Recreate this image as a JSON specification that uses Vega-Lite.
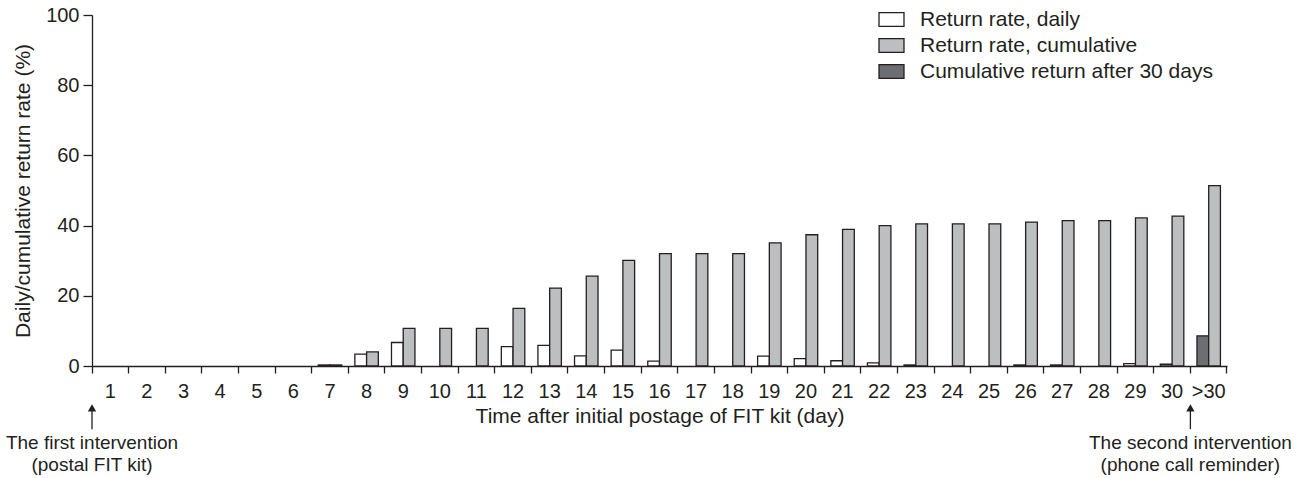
{
  "$schema": "https://vega.github.io/schema/vega-lite/v6.json",
  "width": 1135,
  "height": 351,
  "autosize": {"type": "none"},
  "padding": {"left": 92, "top": 15, "right": 73, "bottom": 112},
  "config": {
    "font": "Liberation Sans",
    "view": {"stroke": null},
    "axis": {
      "grid": false,
      "domainColor": "#231f20",
      "domainWidth": 1.3,
      "tickColor": "#231f20",
      "tickWidth": 1.3,
      "labelColor": "#231f20",
      "titleColor": "#231f20",
      "labelFontSize": 20,
      "titleFontSize": 21,
      "titleFontWeight": "normal"
    }
  },
  "datasets": {
    "bars": [
      {"day": "7", "slot": "a", "series": "Return rate, daily", "value": 0.3},
      {"day": "8", "slot": "a", "series": "Return rate, daily", "value": 3.4},
      {"day": "9", "slot": "a", "series": "Return rate, daily", "value": 6.7},
      {"day": "12", "slot": "a", "series": "Return rate, daily", "value": 5.5},
      {"day": "13", "slot": "a", "series": "Return rate, daily", "value": 5.9},
      {"day": "14", "slot": "a", "series": "Return rate, daily", "value": 2.9},
      {"day": "15", "slot": "a", "series": "Return rate, daily", "value": 4.5},
      {"day": "16", "slot": "a", "series": "Return rate, daily", "value": 1.4},
      {"day": "19", "slot": "a", "series": "Return rate, daily", "value": 2.8},
      {"day": "20", "slot": "a", "series": "Return rate, daily", "value": 2.1},
      {"day": "21", "slot": "a", "series": "Return rate, daily", "value": 1.5},
      {"day": "22", "slot": "a", "series": "Return rate, daily", "value": 0.9},
      {"day": "23", "slot": "a", "series": "Return rate, daily", "value": 0.3},
      {"day": "26", "slot": "a", "series": "Return rate, daily", "value": 0.3},
      {"day": "27", "slot": "a", "series": "Return rate, daily", "value": 0.3},
      {"day": "29", "slot": "a", "series": "Return rate, daily", "value": 0.7},
      {"day": "30", "slot": "a", "series": "Return rate, daily", "value": 0.5},
      {"day": ">30", "slot": "a", "series": "Cumulative return after 30 days", "value": 8.6},
      {"day": "7", "slot": "b", "series": "Return rate, cumulative", "value": 0.3},
      {"day": "8", "slot": "b", "series": "Return rate, cumulative", "value": 4.0},
      {"day": "9", "slot": "b", "series": "Return rate, cumulative", "value": 10.7},
      {"day": "10", "slot": "b", "series": "Return rate, cumulative", "value": 10.7},
      {"day": "11", "slot": "b", "series": "Return rate, cumulative", "value": 10.7},
      {"day": "12", "slot": "b", "series": "Return rate, cumulative", "value": 16.4},
      {"day": "13", "slot": "b", "series": "Return rate, cumulative", "value": 22.2},
      {"day": "14", "slot": "b", "series": "Return rate, cumulative", "value": 25.6},
      {"day": "15", "slot": "b", "series": "Return rate, cumulative", "value": 30.1},
      {"day": "16", "slot": "b", "series": "Return rate, cumulative", "value": 32.0},
      {"day": "17", "slot": "b", "series": "Return rate, cumulative", "value": 32.0},
      {"day": "18", "slot": "b", "series": "Return rate, cumulative", "value": 32.0},
      {"day": "19", "slot": "b", "series": "Return rate, cumulative", "value": 35.1},
      {"day": "20", "slot": "b", "series": "Return rate, cumulative", "value": 37.4},
      {"day": "21", "slot": "b", "series": "Return rate, cumulative", "value": 38.9},
      {"day": "22", "slot": "b", "series": "Return rate, cumulative", "value": 40.0},
      {"day": "23", "slot": "b", "series": "Return rate, cumulative", "value": 40.5},
      {"day": "24", "slot": "b", "series": "Return rate, cumulative", "value": 40.5},
      {"day": "25", "slot": "b", "series": "Return rate, cumulative", "value": 40.5},
      {"day": "26", "slot": "b", "series": "Return rate, cumulative", "value": 41.0},
      {"day": "27", "slot": "b", "series": "Return rate, cumulative", "value": 41.4},
      {"day": "28", "slot": "b", "series": "Return rate, cumulative", "value": 41.4},
      {"day": "29", "slot": "b", "series": "Return rate, cumulative", "value": 42.2},
      {"day": "30", "slot": "b", "series": "Return rate, cumulative", "value": 42.7},
      {"day": ">30", "slot": "b", "series": "Return rate, cumulative", "value": 51.4}
    ],
    "notes": [
      {"day": "1", "y1": -12.5, "y2": -18, "yh": -11.9, "ty": -19.3, "label": ["The first intervention", "(postal FIT kit)"]},
      {"day": ">30", "y1": -12.5, "y2": -18, "yh": -11.9, "ty": -19.3, "label": ["The second intervention", "(phone call reminder)"]}
    ]
  },
  "layer": [
    {
      "data": {"name": "bars"},
      "mark": {"type": "bar", "stroke": "#231f20", "strokeWidth": 1.3},
      "encoding": {
        "x": {
          "field": "day",
          "type": "ordinal",
          "sort": null,
          "scale": {
            "domain": ["1","2","3","4","5","6","7","8","9","10","11","12","13","14","15","16","17","18","19","20","21","22","23","24","25","26","27","28","29","30",">30"],
            "paddingInner": 0,
            "paddingOuter": 0
          },
          "axis": {
            "title": "Time after initial postage of FIT kit (day)",
            "labelAngle": 0,
            "bandPosition": 1,
            "tickExtra": true,
            "tickSize": 7,
            "labelPadding": 8,
            "titlePadding": 4
          }
        },
        "xOffset": {
          "field": "slot",
          "type": "nominal",
          "scale": {"domain": ["a", "b"], "paddingInner": 0, "paddingOuter": 0.56}
        },
        "y": {
          "field": "value",
          "type": "quantitative",
          "scale": {"domain": [0, 100], "nice": false},
          "axis": {
            "title": "Daily/cumulative return rate (%)",
            "values": [0, 20, 40, 60, 80, 100],
            "tickSize": 9,
            "labelPadding": 4,
            "titlePadding": 12
          }
        },
        "color": {
          "field": "series",
          "type": "nominal",
          "scale": {
            "domain": ["Return rate, daily", "Return rate, cumulative", "Cumulative return after 30 days"],
            "range": ["#ffffff", "#bcbec0", "#6d6e71"]
          },
          "legend": {
            "title": null,
            "orient": "none",
            "legendX": 789,
            "legendY": -6,
            "symbolType": "M-2,-1.1H2V1.1H-2Z",
            "symbolSize": 156,
            "symbolStrokeColor": "#231f20",
            "symbolStrokeWidth": 1.3,
            "symbolOpacity": 1,
            "labelFontSize": 21,
            "labelColor": "#231f20",
            "labelOffset": 18,
            "rowPadding": 4,
            "labelLimit": 400
          }
        }
      }
    },
    {
      "data": {"name": "notes"},
      "mark": {"type": "rule", "color": "#231f20", "strokeWidth": 1.3},
      "encoding": {
        "x": {"field": "day", "type": "ordinal", "bandPosition": 0},
        "y": {"field": "y1", "type": "quantitative"},
        "y2": {"field": "y2"}
      }
    },
    {
      "data": {"name": "notes"},
      "mark": {"type": "point", "shape": "triangle-up", "filled": true, "color": "#231f20", "size": 70, "opacity": 1},
      "encoding": {
        "x": {"field": "day", "type": "ordinal", "bandPosition": 0},
        "y": {"field": "yh", "type": "quantitative"}
      }
    },
    {
      "data": {"name": "notes"},
      "mark": {"type": "text", "align": "center", "baseline": "top", "fontSize": 19, "lineHeight": 22, "color": "#231f20"},
      "encoding": {
        "x": {"field": "day", "type": "ordinal", "bandPosition": 0},
        "y": {"field": "ty", "type": "quantitative"},
        "text": {"field": "label"}
      }
    }
  ]
}
